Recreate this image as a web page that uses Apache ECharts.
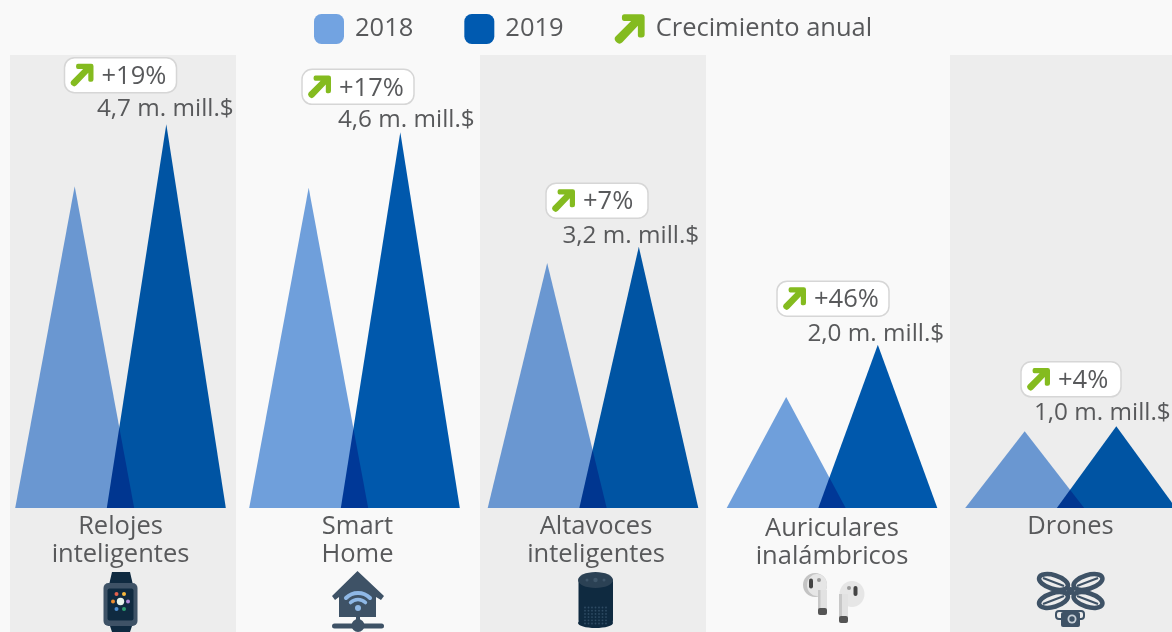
<!DOCTYPE html>
<html>
<head>
<meta charset="utf-8">
<style>
  html, body { margin: 0; padding: 0; background: #f9f9f9; }
  #chart { width: 1172px; height: 632px; }
</style>
</head>
<body>
<div id="chart"></div>
<script src="https://cdn.jsdelivr.net/npm/echarts@6/dist/echarts.min.js"></script>
<script>
const categories = ['Relojes\ninteligentes', 'Smart\nHome', 'Altavoces\ninteligentes', 'Auriculares\ninalámbricos', 'Drones']
const values2018 = [3.94, 3.92, 3.0, 1.36, 0.94]
const values2019 = [4.7, 4.6, 3.2, 2.0, 1.0]
const valueLabels = ['4,7 m. mill.$', '4,6 m. mill.$', '3,2 m. mill.$', '2,0 m. mill.$', '1,0 m. mill.$']
const growthLabels = ['+19%', '+17%', '+7%', '+46%', '+4%']

// layout of the small multiples
const groupCenters = [120.5, 354.5, 593, 832, 1070.5]
const labelMargins = [5, 5, 5, 7, 5]
const labelPadLeft = [0, 6, 6, 0, 0]
const valueLabelDx = [-1, 6, -8, -2, -14]
const valueLabelDy = [0, 3, 4, 4, 2]
const badgeDx = [0, 3.5, 4, 1, 0.5]
const badgeDy = [-49, -45.5, -46, -46, -47]
const badgeWidths = [112, 112, 102, 112, 100]
const bands = [[10, 226], [480, 226], [950, 222]]

const textColor = '#58595b'
const iconDark = '#0f2a40'
const iconSlate = '#3e5266'
const font = '"Open Sans", "Noto Sans", sans-serif'
const arrowPath = 'M11 1L29 1Q32 1 32 4L32 22Q32 25 29 25L27 25Q25 25 25 23L25 13L9 30Q6 33 3 30L2 29Q0 26 2 24L18 8L11 8Q8.5 8 8.5 5L8.5 4Q8.5 1 11 1Z'

function badgeItem(i) {
  return function (params, api) {
    const p = api.coord([0, api.value(0)])
    const w = badgeWidths[i]
    const x = p[0] + badgeDx[i] - w / 2
    const y = p[1] + badgeDy[i] - 17.5
    return {
      type: 'group',
      children: [
        {
          type: 'rect',
          shape: { x: x, y: y, width: w, height: 35, r: 10 },
          style: { fill: '#fff', stroke: '#d6d6d6', lineWidth: 1.5 }
        },
        {
          type: 'path',
          shape: { pathData: arrowPath, x: x + 6, y: y + 6, width: 23, height: 23 },
          style: { fill: '#84bb1f' }
        },
        {
          type: 'text',
          style: {
            text: growthLabels[i],
            x: x + 37,
            y: y + 19,
            verticalAlign: 'middle',
            fill: textColor,
            font: '25.5px ' + font
          }
        }
      ]
    }
  }
}

const grids = []
const xAxes = []
const yAxes = []
const series = []
categories.forEach((name, i) => {
  grids.push({ left: groupCenters[i] - 100, width: 200, top: 18, bottom: 124 })
  xAxes.push({
    type: 'category',
    gridIndex: i,
    data: [name],
    axisLine: { show: false },
    axisTick: { show: false },
    axisLabel: {
      margin: labelMargins[i],
      padding: [0, 0, 0, labelPadLeft[i]],
      color: textColor,
      fontFamily: 'Open Sans',
      fontSize: 25.5,
      lineHeight: 28,
      interval: 0
    }
  })
  yAxes.push({ type: 'value', gridIndex: i, min: 0, max: 6, show: false })
  series.push({
    name: '2018',
    type: 'pictorialBar',
    xAxisIndex: i,
    yAxisIndex: i,
    symbol: 'triangle',
    symbolSize: ['100%', '100%'],
    barWidth: 119,
    barGap: '-23%',
    blendMode: 'multiply',
    silent: true,
    itemStyle: { color: '#72a3e1' },
    data: [values2018[i]]
  })
  series.push({
    name: '2019',
    type: 'pictorialBar',
    xAxisIndex: i,
    yAxisIndex: i,
    symbol: 'triangle',
    symbolSize: ['100%', '100%'],
    barWidth: 119,
    barGap: '-23%',
    blendMode: 'multiply',
    silent: true,
    itemStyle: { color: '#005ab0' },
    label: {
      show: true,
      position: 'top',
      distance: 3,
      offset: [valueLabelDx[i], valueLabelDy[i]],
      formatter: valueLabels[i],
      color: textColor,
      fontFamily: 'Open Sans',
      fontSize: 24.3
    },
    data: [values2019[i]]
  })
  series.push({
    name: 'Crecimiento anual',
    type: 'custom',
    xAxisIndex: i,
    yAxisIndex: i,
    z: 5,
    silent: true,
    itemStyle: { color: '#84bb1f' },
    renderItem: badgeItem(i),
    encode: { y: 0 },
    data: [[values2019[i]]]
  })
})

// icons under the labels
function circle(cx, cy, r, fill) {
  return { type: 'circle', shape: { cx: cx, cy: cy, r: r }, style: { fill: fill } }
}
function oval(cx, cy, rx, ry, fill) {
  return { type: 'ellipse', shape: { cx: cx, cy: cy, rx: rx, ry: ry }, style: { fill: fill } }
}
function box(x, y, w, h, r, fill) {
  return { type: 'rect', shape: { x: x, y: y, width: w, height: h, r: r }, style: { fill: fill } }
}
function poly(points, fill) {
  return { type: 'polygon', shape: { points: points }, style: { fill: fill } }
}
function stroke(x1, y1, x2, y2, color, width) {
  return { type: 'line', shape: { x1: x1, y1: y1, x2: x2, y2: y2 }, style: { stroke: color, lineWidth: width } }
}
function arc(cx, cy, r, color, width) {
  return {
    type: 'arc',
    shape: { cx: cx, cy: cy, r: r, startAngle: Math.PI * 1.25, endAngle: Math.PI * 1.75 },
    style: { fill: null, stroke: color, lineWidth: width, lineCap: 'round' }
  }
}

const watchIcon = [
  poly([[109, 585], [112, 572], [130, 572], [133, 585]], iconDark),
  poly([[109, 623], [112, 632], [130, 632], [133, 623]], iconDark),
  box(103.5, 583, 34, 43, 5, iconSlate),
  box(107.5, 588.5, 26, 32, 2, iconDark),
  circle(120.5, 601.5, 3.7, '#e8f4ec'),
  circle(116.5, 594, 2, '#e2604c'),
  circle(124, 594, 2, '#f5b83d'),
  circle(113, 601.5, 2, '#ee8d2e'),
  circle(128, 601.5, 2, '#b28ad8'),
  circle(116.5, 609, 2, '#4f8fd0'),
  circle(124, 609, 2, '#2a9d6f')
]

const houseIcon = [
  poly([[357.5, 571], [384, 596], [381, 600], [376, 597], [376, 617], [339, 617], [339, 597], [335, 600], [332, 596]], iconSlate),
  arc(358, 610, 17, '#8fb8e6', 4),
  arc(358, 610, 10.5, '#8fb8e6', 3.5),
  circle(358, 608, 3, '#8fb8e6'),
  box(356, 617, 4, 8, 0, iconSlate),
  box(332, 623.5, 52, 5, 2.5, iconSlate),
  circle(358, 625.5, 6.5, iconSlate)
]

const speakerDots = []
for (let row = 0; row < 6; row++) {
  for (let col = 0; col < 7; col++) {
    speakerDots.push(circle(585 + col * 3.5, 607.5 + row * 3.2, 0.9, '#2f4c64'))
  }
}
const speakerIcon = [
  box(578.5, 578, 34.5, 46, 4, iconDark),
  oval(595.5, 580, 17.5, 8, '#2b4154'),
  oval(595.5, 623, 17.5, 5, iconDark),
  circle(595.5, 580, 2.2, '#3f566a'),
  circle(587, 580, 1.5, '#3f566a'),
  circle(604, 580, 1.5, '#3f566a')
].concat(speakerDots)

const budIcon = [
  oval(815, 585, 12, 12, '#c4c4c4'),
  oval(817, 585, 10, 11, '#e6e6e6'),
  box(818, 590, 9, 20, 0, '#e2e2e2'),
  box(818, 590, 2.5, 20, 0, '#c8c8c8'),
  box(818, 608, 9, 7, 2, '#555'),
  box(809, 578.5, 4, 10, 2, '#444'),
  circle(819, 580, 2, '#999'),
  oval(852, 594, 12.5, 13, '#e6e6e6'),
  box(839, 594, 9, 24, 0, '#e2e2e2'),
  box(839, 594, 3, 24, 0, '#c8c8c8'),
  box(839, 616, 9, 7, 2, '#555'),
  box(853.5, 586, 4, 10, 2, '#444'),
  circle(849, 588, 2, '#999')
]

function rotor(cx, cy, rotation) {
  return {
    type: 'ellipse',
    x: cx,
    y: cy,
    rotation: rotation,
    shape: { cx: 0, cy: 0, rx: 15, ry: 6.8 },
    style: { fill: null, stroke: iconSlate, lineWidth: 4.5 }
  }
}
const droneIcon = [
  rotor(1053.5, 582, -0.3),
  rotor(1088, 582, 0.3),
  rotor(1053.5, 600, 0.3),
  rotor(1088, 600, -0.3),
  stroke(1043, 578, 1064, 586, iconSlate, 2),
  stroke(1098, 578, 1077, 586, iconSlate, 2),
  stroke(1043, 604, 1064, 596, iconSlate, 2),
  stroke(1098, 604, 1077, 596, iconSlate, 2),
  circle(1070.5, 591, 4, iconSlate),
  { type: 'rect', shape: { x: 1056, y: 611, width: 28, height: 8, r: 3 }, style: { fill: null, stroke: iconSlate, lineWidth: 2 } },
  box(1061, 612, 19, 15, 2, iconSlate),
  circle(1072, 619, 4.5, '#c8d0d8'),
  circle(1072, 619, 2.7, iconSlate)
]

const bandRects = bands.map(b => ({
  type: 'rect',
  z: -1,
  shape: { x: b[0], y: 55, width: b[1], height: 577 },
  style: { fill: '#ededed' }
}))

const chart = echarts.init(document.getElementById('chart'))
chart.setOption({
  animation: false,
  backgroundColor: '#f9f9f9',
  textStyle: { fontFamily: font },
  legend: {
    left: 309,
    top: 9,
    itemWidth: 30,
    itemHeight: 30,
    itemGap: 51,
    selectedMode: false,
    textStyle: {
      color: textColor,
      fontFamily: 'Open Sans',
      fontSize: 25.5,
      padding: [0, 0, 0, 6]
    },
    data: [
      { name: '2018', icon: 'roundRect' },
      { name: '2019', icon: 'roundRect' },
      { name: 'Crecimiento anual', icon: 'path://' + arrowPath }
    ]
  },
  graphic: bandRects.concat(watchIcon, houseIcon, speakerIcon, budIcon, droneIcon),
  grid: grids,
  xAxis: xAxes,
  yAxis: yAxes,
  series: series
})
</script>
</body>
</html>
